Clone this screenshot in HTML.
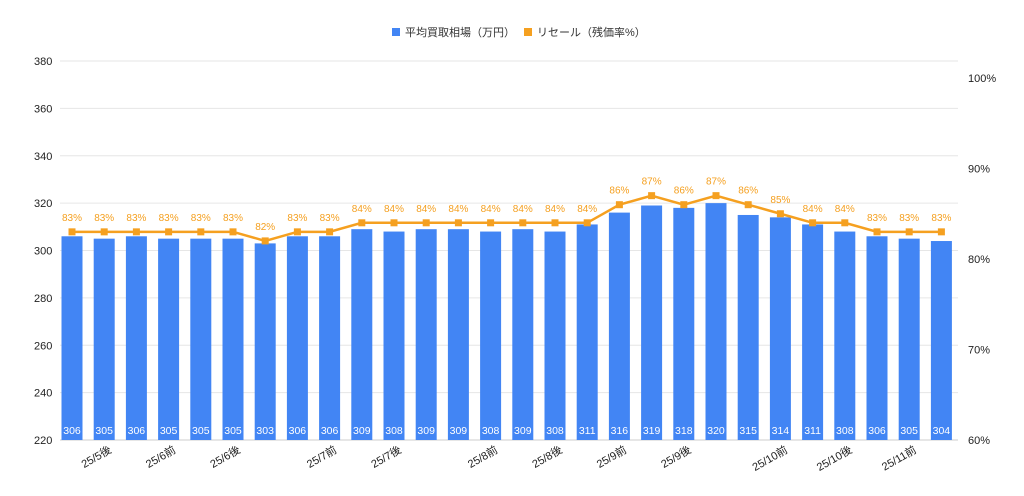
<!DOCTYPE html>
<html><head><meta charset="utf-8"><style>
body{margin:0;background:#fff;}
svg{display:block;font-family:"Liberation Sans","Noto Sans CJK JP",sans-serif;}
</style></head><body>
<svg id="c" width="1024" height="496">
<g>
<rect x="392" y="28" width="8" height="8" fill="#4285f4"/>
<text x="405" y="36" font-size="11" fill="#333">平均買取相場（万円）</text>
<rect x="524" y="28" width="8" height="8" fill="#f5a020"/>
<text x="537" y="36" font-size="11" fill="#333">リセール（残価率%）</text>
</g>
</svg>
<script>
const labels=["","25/5後","","25/6前","","25/6後","","","25/7前","","25/7後","","","25/8前","","25/8後","","25/9前","","25/9後","","","25/10前","","25/10後","","25/11前",""];
const prices=[306,305,306,305,305,305,303,306,306,309,308,309,309,308,309,308,311,316,319,318,320,315,314,311,308,306,305,304];
const resale=[83,83,83,83,83,83,82,83,83,84,84,84,84,84,84,84,84,86,87,86,87,86,85,84,84,83,83,83];
const leftTicks=[220,240,260,280,300,320,340,360,380];
const rightTicks=[60,70,80,90,100];
const svg=document.getElementById('c');const NS='http://www.w3.org/2000/svg';
function mk(t,a,p){const e=document.createElementNS(NS,t);for(const k in a)e.setAttribute(k,a[k]);(p||svg).appendChild(e);return e;}
const x0=72,step=32.2,bw=21;
const xs=i=>x0+i*step;
const yL=v=>440-(v-220)*(379/160);
const yR=v=>440-(v-60)*9.05;
leftTicks.forEach(t=>{
 const l=mk('line',{x1:60,x2:958,y1:yL(t),y2:yL(t),stroke:t===220?'#ccc':'#e6e6e6','stroke-width':1});
 
 const tx=mk('text',{x:34,y:yL(t)+4,'font-size':11,fill:'#222'});tx.textContent=t;
 
});
rightTicks.forEach(t=>{
 const tx=mk('text',{x:968,y:yR(t)+4,'font-size':11,fill:'#222'});tx.textContent=t+'%';
 
});
prices.forEach((v,i)=>{
 const r=mk('rect',{x:xs(i)-bw/2,y:yL(v),width:bw,height:440-yL(v),fill:'#4285f4'});
 
 const t=mk('text',{x:xs(i),y:434,'font-size':10.5,fill:'#fff','text-anchor':'middle'});t.textContent=v;
 
 if(labels[i]){const lx=xs(i)+8,ly=452;
  const lb=mk('text',{x:lx,y:ly,'font-size':11,fill:'#222','text-anchor':'end',transform:`rotate(-30 ${lx} ${ly})`});lb.textContent=labels[i];
  }
});
const pl=mk('polyline',{points:resale.map((v,i)=>xs(i)+','+yR(v)).join(' '),fill:'none',stroke:'#f5a020','stroke-width':2.5});

resale.forEach((v,i)=>{
 const m=mk('rect',{x:xs(i)-3.5,y:yR(v)-3.5,width:7,height:7,fill:'#f5a020'});
 
 const t=mk('text',{x:xs(i),y:yR(v)-11,'font-size':10,fill:'#f5a020','text-anchor':'middle'});t.textContent=v+'%';
 
});
</script>
</body></html>
